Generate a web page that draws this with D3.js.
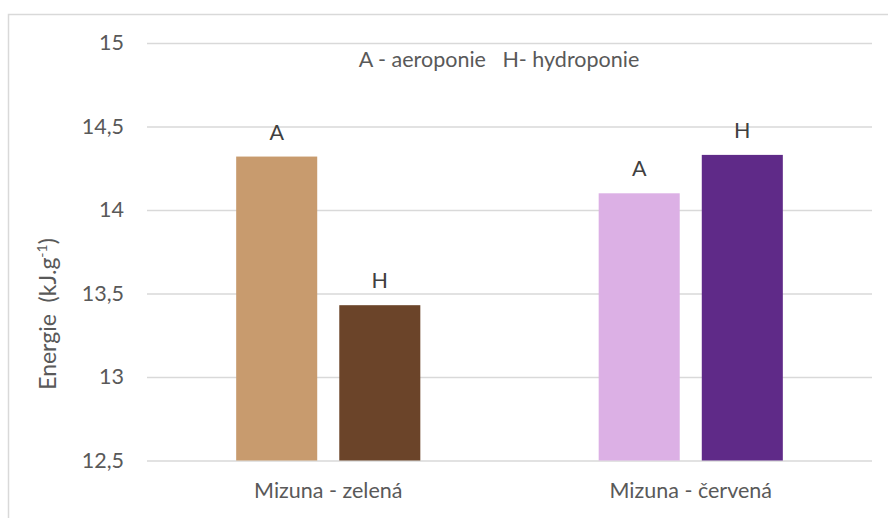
<!DOCTYPE html>
<html>
<head>
<meta charset="utf-8">
<script src="https://cdn.jsdelivr.net/npm/d3@7"></script>
<style>
  body { margin: 0; background: #fff; }
  text { font-family: Lato, "Open Sans", sans-serif; }
</style>
</head>
<body>
<div id="chart"></div>
<script>
// data
var categories = ["Mizuna - zelená", "Mizuna - červená"];
var methods = ["A", "H"];
var values = [
  [14.32, 13.43],   // zelená: A, H
  [14.10, 14.33]    // červená: A, H
];
var colors = [
  ["#c89b6e", "#6b4429"],
  ["#dcb0e5", "#5f2a88"]
];
var yTicks = [12.5, 13, 13.5, 14, 14.5, 15];

var w = 888, h = 518;
var margin = {top: 43, right: 16, bottom: 57.5, left: 147};
var fs = "21.5px";

var svg = d3.select("#chart").append("svg")
  .attr("width", w)
  .attr("height", h);

// chart frame
svg.append("rect")
  .attr("x", 8.5).attr("y", 14.5)
  .attr("width", w).attr("height", h)
  .attr("fill", "none")
  .attr("stroke", "#d9d9d9")
  .attr("stroke-width", 1.5);

var y = d3.scaleLinear()
  .domain([12.5, 15])
  .range([h - margin.bottom, margin.top]);

var x0 = d3.scaleBand()
  .domain(categories)
  .range([margin.left, w - margin.right])
  .paddingInner(0.492)
  .paddingOuter(0.246);

var x1 = d3.scaleBand()
  .domain(methods)
  .range([0, x0.bandwidth()])
  .paddingInner(0.214);

// gridlines
var yAxis = d3.axisLeft(y)
  .tickValues(yTicks)
  .tickSize(-(w - margin.left - margin.right))
  .tickPadding(23)
  .tickFormat(function (d) { return String(d).replace(".", ","); });

var gy = svg.append("g")
  .attr("transform", "translate(" + margin.left + ",0)")
  .call(yAxis);
gy.select(".domain").remove();
gy.selectAll("line").attr("stroke", "#d9d9d9").attr("stroke-width", 1.5);
gy.selectAll("text")
  .attr("fill", "#595959")
  .style("font-size", fs);

// bars
var groups = svg.selectAll("g.cat")
  .data(categories)
  .enter().append("g")
  .attr("class", "cat")
  .attr("transform", function (d) { return "translate(" + x0(d) + ",0)"; });

groups.selectAll("rect")
  .data(function (d, i) {
    return methods.map(function (m, j) {
      return {m: m, v: values[i][j], c: colors[i][j]};
    });
  })
  .enter().append("rect")
  .attr("x", function (d) { return x1(d.m); })
  .attr("y", function (d) { return y(d.v); })
  .attr("width", x1.bandwidth())
  .attr("height", function (d) { return y(12.5) - y(d.v); })
  .attr("fill", function (d) { return d.c; });

groups.selectAll("text.lbl")
  .data(function (d, i) {
    return methods.map(function (m, j) { return {m: m, v: values[i][j]}; });
  })
  .enter().append("text")
  .attr("class", "lbl")
  .attr("x", function (d) { return x1(d.m) + x1.bandwidth() / 2; })
  .attr("y", function (d) { return y(d.v) - 17; })
  .attr("text-anchor", "middle")
  .attr("fill", "#404040")
  .style("font-size", fs)
  .text(function (d) { return d.m; });

// category labels
var xAxis = d3.axisBottom(x0).tickSize(0).tickPadding(22);
var gx = svg.append("g")
  .attr("transform", "translate(0," + (h - margin.bottom) + ")")
  .call(xAxis);
gx.select(".domain").remove();
gx.selectAll("text")
  .attr("fill", "#595959")
  .style("font-size", fs);

// legend note
svg.append("text")
  .attr("x", 499)
  .attr("y", 67)
  .attr("text-anchor", "middle")
  .attr("fill", "#595959")
  .style("font-size", fs)
  .style("white-space", "pre")
  .text("A - aeroponie   H- hydroponie");

// axis title
var title = svg.append("text")
  .attr("transform", "translate(56,314) rotate(-90)")
  .attr("text-anchor", "middle")
  .attr("fill", "#595959")
  .style("font-size", "23px")
  .style("white-space", "pre");
title.append("tspan").text("Energie  (kJ.g");
title.append("tspan").attr("dy", -9).style("font-size", "14px").text("-1");
title.append("tspan").attr("dy", 9).text(")");
</script>
</body>
</html>
